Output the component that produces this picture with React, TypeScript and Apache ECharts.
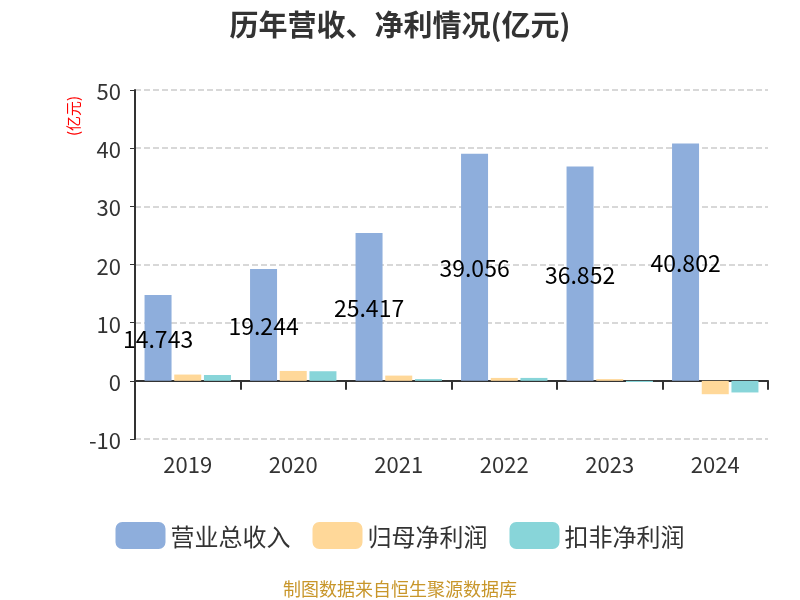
import React, { useEffect, useRef } from "react";
import * as echarts from "echarts";

const years = ["2019", "2020", "2021", "2022", "2023", "2024"];
const revenue = [14.743, 19.244, 25.417, 39.056, 36.852, 40.802];
const netProfit = [1.08, 1.7, 0.9, 0.5, 0.3, -2.3];
const deductedProfit = [1.0, 1.65, 0.3, 0.5, -0.2, -2.0];
const seriesNames = ["营业总收入", "归母净利润", "扣非净利润"];
const colors = ["#8eaedc", "#ffd899", "#88d5d9"];

export default function App() {
  const ref = useRef<HTMLDivElement>(null);
  useEffect(() => {
    if (!ref.current) return;
    const chart = echarts.init(ref.current, undefined, { renderer: "svg" });
    const font = "'Noto Sans CJK SC', 'Noto Sans', sans-serif";
    chart.setOption({
      animation: false,
      color: colors,
      textStyle: { fontFamily: font },
      title: {
        text: "历年营收、净利情况(亿元)",
        left: "center",
        top: 3,
        textStyle: { fontSize: 29, fontWeight: "bold", color: "#333", fontFamily: font },
      },
      legend: {
        bottom: 46,
        left: "center",
        itemWidth: 50,
        itemHeight: 27,
        itemGap: 22,
        icon: "roundRect",
        textStyle: { fontSize: 24, color: "#333", fontFamily: font },
        data: seriesNames,
      },
      graphic: [
        {
          type: "text",
          x: 72,
          y: 116,
          rotation: Math.PI / 2,
          style: {
            text: "(亿元)",
            fill: "#ff0000",
            fontSize: 15,
            fontFamily: font,
            textAlign: "center",
            textVerticalAlign: "middle",
          },
        },
        {
          type: "text",
          x: 400,
          y: 588,
          style: {
            text: "制图数据来自恒生聚源数据库",
            fill: "#c8962a",
            fontSize: 18,
            lineHeight: 20,
            fontFamily: font,
            textAlign: "center",
            textVerticalAlign: "middle",
          },
        },
      ],
      grid: { left: 135, right: 32, top: 90, bottom: 161 },
      xAxis: {
        type: "category",
        data: years,
        axisLine: { onZero: true, lineStyle: { color: "#333", width: 2 } },
        axisTick: { show: true, length: 9, lineStyle: { color: "#333", width: 2 } },
        axisLabel: { fontSize: 22, color: "#333", margin: 13, fontFamily: font },
      },
      yAxis: {
        type: "value",
        min: -10,
        max: 50,
        interval: 10,
        axisLine: { show: true, lineStyle: { color: "#333", width: 2 } },
        axisTick: { show: true, length: 5, lineStyle: { color: "#333" } },
        axisLabel: { fontSize: 22, color: "#333", margin: 14, fontFamily: font },
        splitLine: { show: true, lineStyle: { type: "dashed", color: "#ccc", width: 1.5 } },
      },
      series: [
        {
          name: seriesNames[0],
          type: "bar",
          data: revenue,
          barWidth: 27,
          barGap: "10%",
          label: {
            show: true,
            position: "inside",
            color: "#000",
            fontSize: 23,
            fontFamily: font,
          },
        },
        { name: seriesNames[1], type: "bar", data: netProfit, barWidth: 27, barGap: "10%" },
        { name: seriesNames[2], type: "bar", data: deductedProfit, barWidth: 27, barGap: "10%" },
      ],
    });
    return () => chart.dispose();
  }, []);
  return (
    <div
      ref={ref}
      style={{ position: "fixed", left: 0, top: 0, width: 800, height: 600 }}
    />
  );
}
